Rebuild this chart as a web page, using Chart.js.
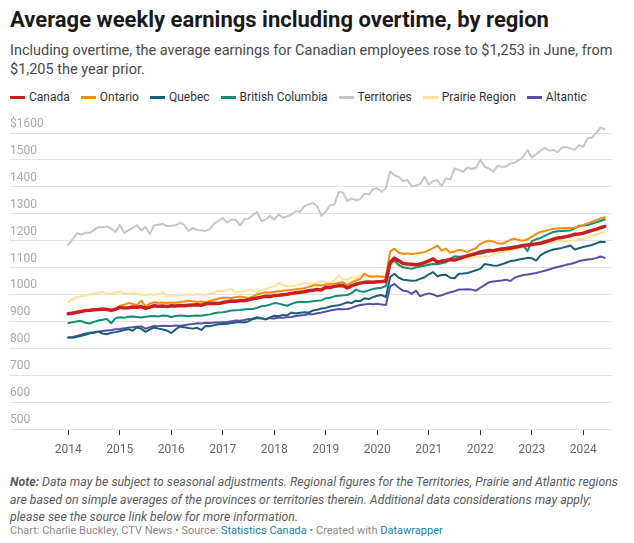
<!DOCTYPE html>
<html>
<head>
<meta charset="utf-8">
<script src="https://cdn.jsdelivr.net/npm/chart.js@4.4.0/dist/chart.umd.min.js"></script>
<style>
  body { margin: 0; background: #fff; font-family: Roboto, sans-serif; width: 634px; height: 543px; position: relative; overflow: hidden; }
  .abs { position: absolute; left: 10px; }
  #title { top: 6px; font-size: 22px; font-weight: 700; line-height: 28px; color: #1a1a1a; white-space: nowrap; }
  #sub { top: 41px; font-size: 14.5px; line-height: 19px; color: #494949; width: 615px; }
  #legend { top: 89px; font-size: 12px; line-height: 16px; color: #333; display: flex; white-space: nowrap; }
  .item { display: flex; align-items: center; margin-right: 11px; }
  .sw { width: 15px; height: 3px; margin-right: 4px; }
  #wrap { position: absolute; left: 0; top: 105px; width: 634px; height: 360px; }
  #note { top: 474px; font-size: 12.3px; line-height: 17.5px; color: #5a5a5a; font-style: italic; width: 612px; }
  #credit { top: 524px; font-size: 11px; line-height: 14px; color: #888; white-space: nowrap; }
  #credit a { color: #1d81a2; text-decoration: none; }
</style>
</head>
<body>
<div id="title" class="abs">Average weekly earnings including overtime, by region</div>
<div id="sub" class="abs">Including overtime, the average earnings for Canadian employees rose to $1,253 in June, from $1,205 the year prior.</div>
<div id="legend" class="abs"></div>
<div id="wrap"><canvas id="chart" width="634" height="360"></canvas></div>
<div id="note" class="abs"><b>Note:</b> Data may be subject to seasonal adjustments. Regional figures for the Territories, Prairie and Atlantic regions are based on simple averages of the provinces or territories therein. Additional data considerations may apply; please see the source link below for more information.</div>
<div id="credit" class="abs">Chart: Charlie Buckley, CTV News • Source: <a>Statistics Canada</a> • Created with <a>Datawrapper</a></div>
<script>
// monthly values, Jan 2014 - Jun 2024
const startYear = 2014;
const years = [2014, 2015, 2016, 2017, 2018, 2019, 2020, 2021, 2022, 2023, 2024];
const yTicks = [500, 600, 700, 800, 900, 1000, 1100, 1200, 1300, 1400, 1500, 1600];

const canada = [
  928, 930, 934, 937, 940, 941, 943, 944, 946, 944, 941, 945,
  952, 950, 951, 953, 952, 955, 948, 953, 958, 956, 957, 955,
  958, 957, 959, 958, 960, 961, 962, 960, 965, 966, 967, 966,
  970, 973, 976, 975, 978, 977, 980, 984, 987, 990, 993, 992,
  996, 997, 999, 1001, 1004, 1006, 1008, 1010, 1014, 1016, 1018, 1017,
  1027, 1026, 1030, 1032, 1033, 1024, 1032, 1038, 1042, 1045, 1046, 1045,
  1047, 1048, 1050, 1120, 1135, 1125, 1115, 1113, 1112, 1110, 1113, 1118,
  1125, 1132, 1120, 1124, 1126, 1130, 1128, 1133, 1139, 1144, 1148, 1152,
  1158, 1161, 1163, 1162, 1166, 1168, 1170, 1172, 1175, 1178, 1182, 1184,
  1186, 1188, 1190, 1195, 1200, 1205, 1210, 1212, 1215, 1218, 1224, 1225,
  1228, 1233, 1238, 1242, 1248, 1253
];
const ontario = [
  932, 933, 935, 937, 939, 940, 942, 943, 945, 943, 940, 946,
  958, 962, 968, 965, 961, 977, 956, 966, 971, 969, 970, 968,
  970, 969, 972, 974, 977, 975, 972, 974, 971, 976, 980, 985,
  988, 988, 987, 990, 992, 990, 986, 993, 1000, 1005, 1008, 1006,
  1010, 1012, 1014, 1016, 1017, 1019, 1021, 1023, 1028, 1033, 1035, 1033,
  1037, 1039, 1040, 1043, 1045, 1035, 1045, 1052, 1058, 1077, 1068, 1066,
  1068, 1066, 1064, 1160, 1170, 1155, 1151, 1152, 1150, 1152, 1155, 1157,
  1165, 1172, 1182, 1163, 1170, 1155, 1160, 1165, 1163, 1158, 1166, 1172,
  1188, 1195, 1200, 1197, 1190, 1188, 1195, 1203, 1207, 1202, 1200, 1205,
  1215, 1225, 1232, 1236, 1240, 1244, 1245, 1246, 1247, 1246, 1248, 1252,
  1258, 1264, 1270, 1276, 1282, 1287
];
const quebec = [
  840, 839, 843, 846, 850, 856, 858, 861, 855, 852, 858, 860,
  863, 868, 871, 865, 877, 872, 861, 870, 877, 873, 870, 866,
  857, 870, 881, 878, 875, 873, 876, 868, 883, 882, 886, 889,
  890, 891, 894, 896, 898, 896, 900, 910, 915, 912, 907, 915,
  921, 919, 924, 922, 933, 929, 932, 934, 933, 940, 943, 948,
  950, 955, 958, 960, 965, 971, 968, 977, 975, 986, 983, 990,
  995, 998, 990, 1065, 1077, 1062, 1055, 1053, 1051, 1052, 1058, 1064,
  1075, 1083, 1068, 1072, 1073, 1062, 1060, 1077, 1078, 1080, 1085, 1090,
  1095, 1113, 1110, 1108, 1107, 1112, 1118, 1124, 1126, 1130, 1133, 1136,
  1135, 1126, 1145, 1155, 1162, 1167, 1170, 1173, 1177, 1182, 1167, 1172,
  1176, 1180, 1184, 1190, 1196, 1195
];
const britishColumbia = [
  894, 897, 900, 901, 895, 892, 898, 903, 906, 909, 893, 912,
  915, 913, 917, 918, 916, 914, 917, 919, 920, 918, 922, 921,
  916, 920, 922, 921, 919, 921, 922, 921, 924, 926, 930, 933,
  934, 937, 940, 941, 942, 944, 946, 946, 950, 956, 958, 962,
  968, 966, 962, 958, 965, 970, 973, 972, 973, 975, 977, 978,
  986, 988, 993, 995, 997, 998, 1005, 1018, 1012, 1010, 1015, 1020,
  1023, 1025, 1031, 1113, 1126, 1110, 1101, 1098, 1095, 1100, 1104, 1107,
  1110, 1113, 1112, 1116, 1120, 1132, 1142, 1140, 1141, 1142, 1146, 1150,
  1151, 1155, 1160, 1163, 1168, 1172, 1174, 1176, 1178, 1180, 1182, 1161,
  1198, 1205, 1210, 1218, 1225, 1232, 1235, 1236, 1237, 1238, 1245, 1255,
  1256, 1258, 1263, 1268, 1273, 1279
];
const territories = [
  1185, 1205, 1228, 1222, 1229, 1229, 1240, 1251, 1250, 1253, 1245, 1232,
  1259, 1229, 1238, 1247, 1257, 1238, 1251, 1225, 1257, 1259, 1262, 1254,
  1255, 1257, 1266, 1259, 1236, 1247, 1240, 1238, 1236, 1244, 1263, 1274,
  1284, 1267, 1279, 1278, 1257, 1279, 1282, 1295, 1307, 1273, 1278, 1292,
  1278, 1297, 1285, 1290, 1297, 1309, 1307, 1328, 1335, 1340, 1328, 1292,
  1309, 1331, 1334, 1381, 1379, 1348, 1356, 1351, 1354, 1375, 1371, 1390,
  1396, 1382, 1396, 1458, 1443, 1437, 1422, 1425, 1402, 1405, 1411, 1437,
  1409, 1421, 1425, 1402, 1431, 1427, 1468, 1462, 1456, 1472, 1466, 1471,
  1501, 1475, 1468, 1456, 1477, 1475, 1475, 1486, 1490, 1499, 1512, 1537,
  1508, 1521, 1534, 1545, 1534, 1537, 1529, 1545, 1548, 1543, 1538, 1555,
  1549, 1580, 1583, 1599, 1620, 1614
];
const prairie = [
  973, 983, 990, 993, 996, 1000, 1004, 1006, 1008, 1005, 1002, 1006,
  1010, 1004, 1002, 1005, 1003, 1000, 998, 1001, 999, 1003, 1008, 993,
  998, 996, 997, 999, 1000, 998, 1002, 1000, 998, 1004, 1006, 1014,
  1012, 1016, 1021, 1006, 1010, 1012, 1018, 1014, 1008, 1016, 1020, 1027,
  1030, 1043, 1035, 1031, 1030, 1033, 1037, 1043, 1041, 1040, 1044, 1048,
  1046, 1045, 1051, 1070, 1058, 1055, 1064, 1060, 1070, 1066, 1068, 1067,
  1070, 1068, 1068, 1110, 1118, 1105, 1098, 1100, 1104, 1110, 1113, 1112,
  1115, 1118, 1116, 1120, 1122, 1124, 1126, 1130, 1132, 1135, 1137, 1140,
  1140, 1143, 1142, 1148, 1152, 1157, 1160, 1163, 1167, 1172, 1175, 1180,
  1182, 1185, 1188, 1190, 1193, 1195, 1196, 1197, 1198, 1200, 1202, 1205,
  1207, 1212, 1218, 1222, 1228, 1232
];
const atlantic = [
  840, 842, 846, 850, 855, 858, 860, 862, 864, 866, 868, 871,
  872, 874, 877, 878, 880, 881, 873, 878, 883, 882, 884, 883,
  883, 885, 884, 886, 888, 890, 893, 892, 895, 894, 896, 896,
  897, 898, 900, 903, 902, 905, 909, 908, 912, 911, 909, 912,
  911, 914, 913, 915, 916, 920, 922, 924, 927, 926, 930, 933,
  937, 940, 943, 946, 945, 946, 950, 956, 961, 963, 965, 964,
  965, 963, 961, 1030, 1039, 1025, 1014, 1012, 1002, 1014, 993, 1000,
  1004, 1000, 993, 997, 1003, 1008, 1012, 1018, 1018, 1019, 1018, 1014,
  1025, 1035, 1045, 1048, 1050, 1052, 1055, 1050, 1062, 1068, 1072, 1074,
  1077, 1080, 1084, 1088, 1093, 1098, 1102, 1106, 1110, 1113, 1118, 1124,
  1127, 1130, 1132, 1135, 1141, 1136
];

const series = [
  { name: 'Canada', values: canada, color: '#c91f1f', width: 3.5 },
  { name: 'Ontario', values: ontario, color: '#f98b0c', width: 2 },
  { name: 'Quebec', values: quebec, color: '#1a5f78', width: 2 },
  { name: 'British Columbia', values: britishColumbia, color: '#0d8f78', width: 2 },
  { name: 'Territories', values: territories, color: '#c6c6c6', width: 2 },
  { name: 'Prairie Region', values: prairie, color: '#fde39a', width: 2 },
  { name: 'Altantic', values: atlantic, color: '#5b4ea8', width: 2 }
];

// legend
const legend = document.getElementById('legend');
series.forEach(s => {
  const item = document.createElement('div');
  item.className = 'item';
  item.innerHTML = '<span class="sw" style="background:' + s.color + '"></span>' + s.name;
  legend.appendChild(item);
});

// first dataset is drawn on top, so Canada goes first
const datasets = series.map(s => ({
  label: s.name,
  data: s.values.map((v, i) => ({ x: startYear + i / 12, y: v })),
  borderColor: s.color,
  borderWidth: s.width,
  pointRadius: 0,
  tension: 0,
  clip: false
}));

const xMin = 2014 - 58.3 / 51.5;
const xMax = xMin + 602 / 51.5;

new Chart(document.getElementById('chart'), {
  type: 'line',
  data: { datasets: datasets },
  options: {
    responsive: false,
    animation: false,
    devicePixelRatio: 1,
    layout: { padding: { left: 10, right: 22, top: 28, bottom: 6 } },
    plugins: { legend: { display: false }, tooltip: { enabled: false } },
    elements: { line: { borderJoinStyle: 'round', borderCapStyle: 'round' } },
    scales: {
      x: {
        type: 'linear',
        min: xMin,
        max: xMax,
        afterBuildTicks: axis => { axis.ticks = years.map(v => ({ value: v })); },
        afterFit: axis => { axis.height = 30; },
        grid: { drawOnChartArea: false, drawTicks: true, tickLength: 6, color: '#333' },
        border: { display: false },
        ticks: {
          padding: 8, color: '#666', autoSkip: false, maxRotation: 0,
          font: { family: 'Roboto', size: 12 },
          callback: v => String(v)
        }
      },
      y: {
        min: 500,
        max: 1600,
        afterBuildTicks: axis => { axis.ticks = yTicks.map(v => ({ value: v })); },
        afterFit: axis => { axis.width = 0; },
        grid: { color: '#e3e3e3', drawTicks: false },
        border: { display: false },
        ticks: {
          mirror: true, padding: 0, labelOffset: -9, color: '#a8a8a8',
          font: { family: 'Roboto', size: 12 },
          callback: v => v === 1600 ? '$1600' : String(v)
        }
      }
    }
  }
});
</script>
</body>
</html>
